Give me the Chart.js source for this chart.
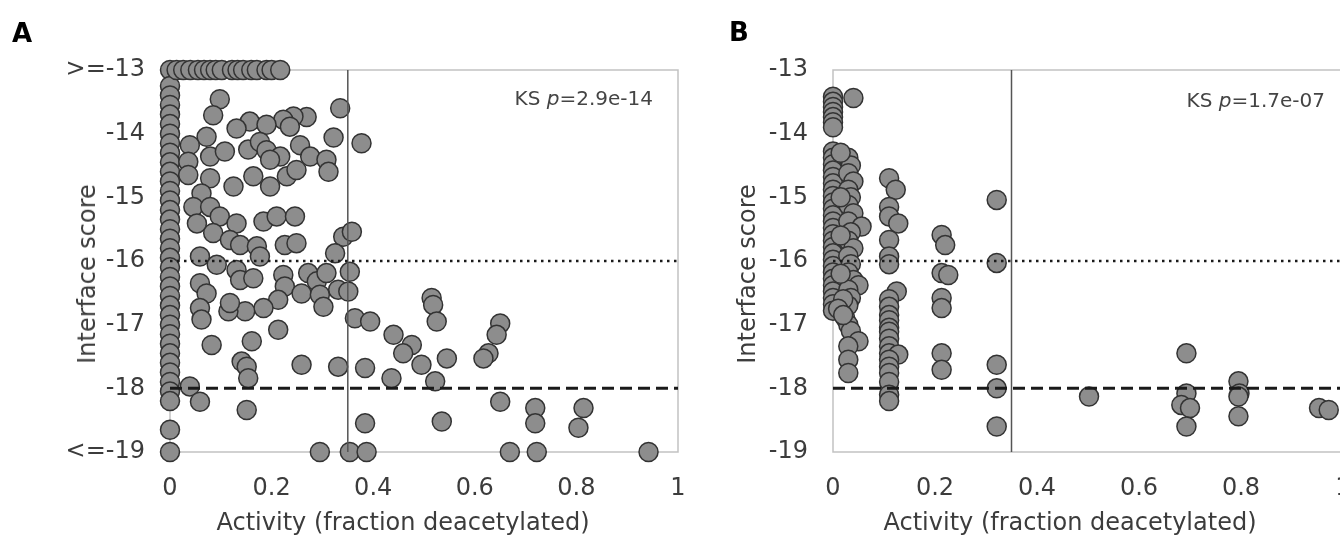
<!DOCTYPE html>
<html>
<head>
<meta charset="utf-8">
<script src="https://cdn.jsdelivr.net/npm/chart.js@4.4.1/dist/chart.umd.min.js"></script>
<style>
  html, body { margin: 0; padding: 0; background: #fff; }
  body { position: relative; width: 1340px; height: 535px; overflow: hidden; font-family: "DejaVu Sans", sans-serif; }
  canvas { position: absolute; top: 0; }
  .lbl { position: absolute; white-space: nowrap; line-height: 1; color: #3c3c3c; transform: translate(-50%, -50%); }
  .title { font-size: 24px; }
  .ytitle { font-size: 24px; transform: translate(-50%, -50%) rotate(-90deg); }
  .ks { font-size: 20px; transform: translate(-100%, -50%); color: #444; }
  .panel { font-size: 26px; font-weight: bold; color: #000; }
</style>
</head>
<body>
<canvas id="chartA" width="690" height="535" style="left:0"></canvas>
<canvas id="chartB" width="660" height="535" style="left:690px"></canvas>

<div class="lbl panel" style="left:22px;top:33px">A</div>
<div class="lbl panel" style="left:739px;top:32px">B</div>
<div class="lbl ytitle" style="left:87px;top:274px">Interface score</div>
<div class="lbl ytitle" style="left:747px;top:274px">Interface score</div>
<div class="lbl title" style="left:403px;top:522px">Activity (fraction deacetylated)</div>
<div class="lbl title" style="left:1070px;top:522px">Activity (fraction deacetylated)</div>
<div class="lbl ks" style="left:653px;top:98px">KS <i>p</i>=2.9e-14</div>
<div class="lbl ks" style="left:1325px;top:100px">KS <i>p</i>=1.7e-07</div>

<script>
// thresholds drawn as reference lines
const SCORE_GOOD = -16;   // dotted
const SCORE_BEST = -18;   // dashed
const ACTIVE_CUT = 0.35;  // vertical

const X_TICKS = [0, 0.2, 0.4, 0.6, 0.8, 1];
const Y_TICKS = [-19, -18, -17, -16, -15, -14, -13];

// ---- panel A ----
// designs capped at >= -13 (x values)
const aTopRowX = [0.013, 0.026, 0.04, 0.055, 0.067, 0.079, 0.09, 0.102, 0.122, 0.133, 0.144, 0.16, 0.171, 0.19, 0.2, 0.217];
// designs with zero activity (y values)
const aZeroY = [-13, -13.25, -13.4, -13.55, -13.7, -13.85, -14, -14.15, -14.3, -14.45, -14.6, -14.75, -14.9,
  -15.05, -15.2, -15.35, -15.5, -15.65, -15.8, -15.95, -16.1, -16.25, -16.4, -16.55, -16.7, -16.85, -17,
  -17.15, -17.3, -17.45, -17.6, -17.75, -17.9, -18.05, -18.2, -18.65, -19];
// designs capped at <= -19 (x values)
const aFloorX = [0.295, 0.354, 0.387, 0.669, 0.722, 0.942];
// everything else [activity, score]
const aOther = [
  [0.098,-13.46],[0.085,-13.71],[0.335,-13.6],[0.269,-13.74],[0.243,-13.73],[0.223,-13.78],[0.157,-13.81],
  [0.131,-13.92],[0.19,-13.86],[0.236,-13.89],[0.322,-14.06],[0.377,-14.15],[0.072,-14.05],[0.039,-14.18],
  [0.154,-14.25],[0.177,-14.13],[0.19,-14.26],[0.217,-14.36],[0.256,-14.18],[0.276,-14.36],[0.308,-14.41],
  [0.312,-14.6],[0.079,-14.36],[0.108,-14.28],[0.036,-14.44],[0.079,-14.7],[0.125,-14.83],[0.164,-14.67],
  [0.197,-14.83],[0.23,-14.67],[0.249,-14.57],[0.197,-14.41],[0.036,-14.65],[0.062,-14.94],[0.046,-15.15],
  [0.079,-15.15],[0.098,-15.3],[0.131,-15.41],[0.053,-15.41],[0.085,-15.56],[0.184,-15.38],[0.21,-15.3],
  [0.246,-15.3],[0.226,-15.75],[0.249,-15.72],[0.341,-15.62],[0.358,-15.54],[0.325,-15.88],[0.059,-15.93],
  [0.118,-15.67],[0.138,-15.75],[0.171,-15.77],[0.177,-15.93],
  [0.092,-16.06],[0.131,-16.14],[0.138,-16.3],[0.164,-16.27],[0.223,-16.22],[0.226,-16.4],[0.272,-16.19],
  [0.289,-16.32],[0.308,-16.19],[0.354,-16.17],[0.331,-16.45],[0.351,-16.48],[0.259,-16.51],[0.295,-16.53],
  [0.302,-16.72],[0.213,-16.61],[0.184,-16.74],[0.148,-16.79],[0.115,-16.79],[0.118,-16.66],[0.059,-16.35],
  [0.072,-16.51],[0.059,-16.74],[0.062,-16.92],[0.082,-17.32],[0.161,-17.26],[0.213,-17.08],[0.141,-17.58],
  [0.151,-17.66],[0.154,-17.84],[0.259,-17.63],[0.331,-17.66],[0.384,-17.68],[0.364,-16.9],[0.394,-16.95],
  [0.44,-17.16],[0.436,-17.84],[0.039,-17.97],[0.059,-18.21],[0.151,-18.34],[0.384,-18.55],
  [0.515,-16.58],[0.518,-16.69],[0.525,-16.95],[0.65,-16.98],[0.643,-17.16],[0.627,-17.45],[0.617,-17.53],
  [0.476,-17.32],[0.459,-17.45],[0.495,-17.63],[0.545,-17.53],[0.522,-17.89],[0.65,-18.21],[0.719,-18.31],
  [0.719,-18.55],[0.814,-18.31],[0.804,-18.62],[0.535,-18.52]
];

// ---- panel B ----
const bZeroY = [-13.42, -13.5, -13.58, -13.66, -13.74, -13.82, -13.9,
  -14.28, -14.38, -14.48, -14.58, -14.68, -14.78, -14.88, -14.98, -15.08, -15.18, -15.28, -15.38, -15.48,
  -15.58, -15.68, -15.78, -15.88, -15.98, -16.08, -16.18, -16.28, -16.38, -16.48, -16.58, -16.68, -16.78];
const bOther = [
  [0.04,-13.44],
  [0.03,-14.38],[0.035,-14.5],[0.03,-14.62],[0.04,-14.75],[0.03,-14.88],[0.035,-15],[0.03,-15.12],
  [0.04,-15.25],[0.03,-15.38],[0.056,-15.46],[0.035,-15.55],[0.03,-15.68],[0.04,-15.8],[0.03,-15.92],
  [0.035,-16.05],[0.03,-16.18],[0.04,-16.3],[0.05,-16.38],[0.03,-16.45],[0.035,-16.58],[0.03,-16.7],
  [0.024,-16.9],[0.03,-17],[0.035,-17.1],[0.05,-17.26],[0.03,-17.34],[0.03,-17.55],[0.03,-17.76],
  [0.015,-14.3],[0.015,-15],[0.015,-15.6],[0.015,-16.2],[0.02,-16.6],[0.01,-16.75],[0.02,-16.85],
  [0.11,-14.7],[0.123,-14.88],[0.11,-15.15],[0.11,-15.3],[0.128,-15.41],[0.11,-15.67],[0.11,-15.93],
  [0.11,-16.05],[0.125,-16.48],[0.11,-16.6],[0.11,-16.72],[0.11,-16.85],[0.11,-16.93],[0.11,-17.05],
  [0.11,-17.11],[0.11,-17.22],[0.11,-17.34],[0.11,-17.45],[0.128,-17.47],[0.11,-17.55],[0.11,-17.66],
  [0.11,-17.76],[0.11,-17.9],[0.11,-18.1],[0.11,-18.2],
  [0.213,-15.59],[0.22,-15.75],[0.213,-16.19],[0.226,-16.22],[0.213,-16.58],[0.213,-16.74],[0.213,-17.45],[0.213,-17.71],
  [0.321,-15.04],[0.321,-16.03],[0.321,-17.63],[0.321,-18],[0.321,-18.6],
  [0.502,-18.13],[0.693,-17.45],[0.693,-18.08],[0.683,-18.26],[0.7,-18.31],[0.693,-18.6],
  [0.795,-17.89],[0.797,-18.08],[0.795,-18.13],[0.795,-18.44],[0.953,-18.31],[0.972,-18.34]
];

// build point lists
const pointsA = []
  .concat(aZeroY.map((y) => ({ x: 0, y })))
  .concat(aTopRowX.map((x) => ({ x, y: -13 })))
  .concat(aFloorX.map((x) => ({ x, y: -19 })))
  .concat(aOther.map(([x, y]) => ({ x, y })));
const pointsB = []
  .concat(bZeroY.map((y) => ({ x: 0, y })))
  .concat(bOther.map(([x, y]) => ({ x, y })));

// plot frame
const framePlugin = {
  id: "frame",
  beforeDatasetsDraw(chart) {
    const { ctx, chartArea: a } = chart;
    ctx.save();
    ctx.strokeStyle = "#c2c2c2";
    ctx.lineWidth = 1.5;
    ctx.strokeRect(a.left, a.top, a.right - a.left, a.bottom - a.top);
    ctx.restore();
  },
};

function refLine(data, color, width, dash) {
  return {
    data,
    showLine: true,
    borderColor: color,
    borderWidth: width,
    borderDash: dash,
    pointRadius: 0,
    clip: false,
    order: 0,
  };
}

function makeChart(canvas, points, yWidth, padRight, capped) {
  return new Chart(canvas, {
    type: "scatter",
    data: {
      datasets: [
        refLine([{ x: 0, y: SCORE_GOOD }, { x: 1, y: SCORE_GOOD }], "#1a1a1a", 2.5, [2.5, 4.5]),
        refLine([{ x: 0, y: SCORE_BEST }, { x: 1, y: SCORE_BEST }], "#1a1a1a", 3, [12, 6]),
        refLine([{ x: ACTIVE_CUT, y: -13 }, { x: ACTIVE_CUT, y: -19 }], "#555", 1.5, []),
        {
          data: points,
          backgroundColor: "#8d8d8d",
          borderColor: "#333",
          borderWidth: 1.5,
          pointRadius: 9.5,
          clip: false,
          order: 1,
        },
      ],
    },
    options: {
      responsive: false,
      animation: false,
      devicePixelRatio: 1,
      layout: { autoPadding: false, padding: { left: 0, top: 70, right: padRight, bottom: 0 } },
      plugins: { legend: { display: false }, tooltip: { enabled: false } },
      scales: {
        x: {
          type: "linear",
          min: 0,
          max: 1,
          afterFit: (s) => { s.height = 83; s.paddingLeft = 0; s.paddingRight = 0; },
          afterBuildTicks: (s) => { s.ticks = X_TICKS.map((v) => ({ value: v })); },
          grid: { display: false, drawTicks: false },
          border: { display: false },
          ticks: {
            padding: 22,
            color: "#3c3c3c",
            font: { family: "DejaVu Sans", size: 24 },
            callback: (v) => String(+v.toFixed(1)),
          },
        },
        y: {
          type: "linear",
          min: -19,
          max: -13,
          afterFit: (s) => { s.width = yWidth; s.paddingTop = 0; s.paddingBottom = 0; },
          afterBuildTicks: (s) => { s.ticks = Y_TICKS.map((v) => ({ value: v })); },
          grid: { display: false, drawTicks: false },
          border: { display: false },
          ticks: {
            padding: 25,
            color: "#3c3c3c",
            font: { family: "DejaVu Sans", size: 24 },
            callback: (v) => {
              if (capped && v === -13) return ">=-13";
              if (capped && v === -19) return "<=-19";
              return String(v);
            },
          },
        },
      },
    },
    plugins: [framePlugin],
  });
}

makeChart(document.getElementById("chartA"), pointsA, 170, 12, true);
// panel B runs past the right edge of the figure
makeChart(document.getElementById("chartB"), pointsB, 143, 7, false);
</script>
</body>
</html>
